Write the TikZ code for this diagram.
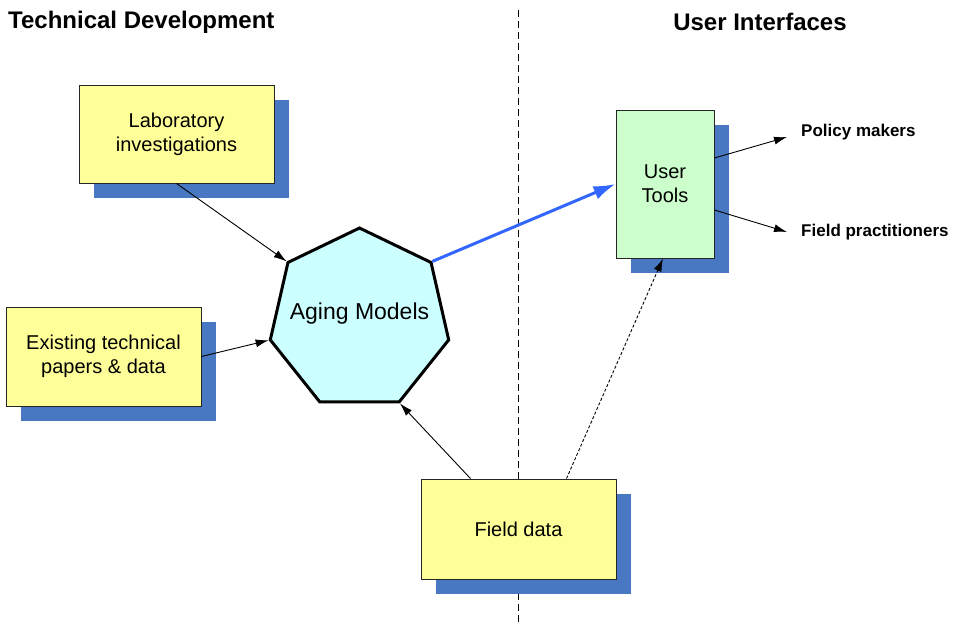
\documentclass[tikz,border=0pt]{standalone}
\usepackage{fontspec}
\setmainfont{Liberation Sans}
\usetikzlibrary{arrows.meta,shapes.geometric,shadows}
\definecolor{padyellow}{HTML}{FFFF99}
\definecolor{padgreen}{HTML}{CCFFCC}
\definecolor{padcyan}{HTML}{CCFFFF}
\definecolor{shadowblue}{RGB}{72,120,194}
\definecolor{flowblue}{HTML}{3366FF}

\begin{document}
\begin{tikzpicture}[x=1pt,y=1pt,
 b/.style={draw=black!85,line width=0.9pt,fill=padyellow,align=center,inner sep=0pt,
   minimum width=195pt,minimum height=98pt,font=\fontsize{20}{24}\selectfont,
   drop shadow={shadow xshift=15pt,shadow yshift=-15pt,fill=shadowblue,opacity=1}},
 t/.style={font=\bfseries\fontsize{24}{28}\selectfont,inner sep=0pt},
 l/.style={font=\bfseries\fontsize{17}{20}\selectfont,anchor=west,inner sep=0pt},
 a/.style={-{Latex[length=13pt,width=8pt]},line width=0.9pt}]
\useasboundingbox (0,0) rectangle (953,-625);
\node[t,anchor=west] (tech) at (8,-22) {Technical Development};
\node[t] (user) at (760,-22) {User Interfaces};
\coordinate (divtop) at (518,-10);
\coordinate (divbot) at (518,-625);
\draw[line width=0.9pt,dash pattern=on 7pt off 4pt] (divtop)--(divbot);
\node[b] (lab) at (176.5,-134) {Laboratory\\investigations};
\node[b,minimum height=99pt] (papers) at (103.5,-356.5) {Existing technical\\papers \& data};
\node[b,minimum height=100pt] (field) at (518.5,-529) {Field data};
\node[b,fill=padgreen,minimum width=98pt,minimum height=148pt] (tools) at (665,-184) {User\\Tools};
\node[regular polygon,regular polygon sides=7,minimum size=183pt,inner sep=0pt,
  draw,line width=3pt,fill=padcyan,
  label={[font=\fontsize{23}{27}\selectfont,yshift=6pt]center:Aging Models}] (aging) at (359.5,-319.5) {};
\node[l] (policy) at (801,-132) {Policy makers};
\node[l] (practice) at (801,-232) {Field practitioners};
\draw[a] (lab.south)--(aging.corner 2);
\draw[a] (papers.east)--(aging.corner 3);
\draw[a] ([xshift=-48pt]field.north)--(aging.corner 5);
\draw[a,dash pattern=on 3pt off 2pt] ([xshift=48pt]field.north)--([xshift=-2pt]tools.south);
\draw[-{Latex[length=22pt,width=14pt]},line width=3pt,flowblue] (aging.corner 7)--(tools.west);
\draw[a] ([yshift=26pt]tools.east)--([xshift=-14pt,yshift=-5pt]policy.west);
\draw[a] ([yshift=-26pt]tools.east)--([xshift=-14pt]practice.west);
\end{tikzpicture}
\end{document}
